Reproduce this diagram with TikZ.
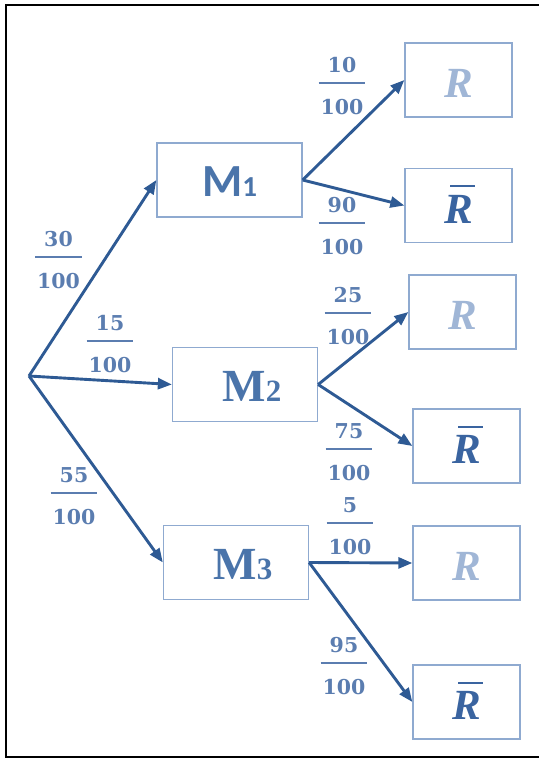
\documentclass[tikz,border=0pt]{standalone}
\usepackage{fontspec}
\setmainfont{Liberation Serif}
\newfontfamily\calib{Carlito}
\newfontfamily\fracf{DejaVu Serif}
\usetikzlibrary{arrows.meta}

\definecolor{boxblue}{HTML}{8FAAD0}
\definecolor{arrowblue}{HTML}{2E5A94}
\definecolor{fracblue}{HTML}{5B7DB0}
\definecolor{mblue}{HTML}{4A74AA}
\definecolor{rlight}{HTML}{A0B6D6}
\definecolor{rdark}{HTML}{3A64A0}

\setlength{\arrayrulewidth}{2pt}
\newcommand{\frc}[2]{\begin{tabular}{@{\hspace{2pt}}c@{\hspace{2pt}}}#1\\\hline\rule{0pt}{30pt}#2\end{tabular}}
\newcommand{\rbar}{\rlap{\hspace{6pt}\rule[36pt]{25pt}{2pt}}R}

\begin{document}
\begin{tikzpicture}[x=1pt,y=-1pt,->,>={Triangle[length=14pt,width=11pt]},line width=2.9pt]
\tikzstyle{mbox}=[draw=boxblue,line width=1.3pt,minimum width=145pt,minimum height=74pt,inner sep=0pt,text=mblue,text height=33pt,text depth=0pt,font=\bfseries\fontsize{46}{46}\selectfont]
\tikzstyle{rbox}=[draw=boxblue,line width=1.3pt,minimum width=107pt,minimum height=74pt,inner sep=0pt,text height=35pt,text depth=0pt,font=\bfseries\itshape\fontsize{43}{43}\selectfont]
\tikzstyle{prob}=[inner sep=0pt,text=fracblue,font=\fracf\bfseries\fontsize{20.5}{33.3}\selectfont]
\useasboundingbox (0,0) rectangle (538,760);
\draw[-,black,line width=1.8pt] (545,5) -- (6,5) -- (6,757) -- (545,757);

\coordinate (root) at (29,376);
\node[mbox] (M1) at (229.5,180) {\calib M{\fontsize{29}{29}\selectfont 1}};
\node[mbox] (M2) at (245,384.5) {\hspace*{14pt}M{\fontsize{31}{31}\selectfont 2}};
\node[mbox] (M3) at (236,562.5) {\hspace*{14pt}M{\fontsize{31}{31}\selectfont 3}};
\node[rbox,text=rlight] (R1) at (458.5,80) {R};
\node[rbox,text=rdark] (RB1) at (458.5,205.5) {\rbar};
\node[rbox,text=rlight] (R2) at (462.5,312) {R};
\node[rbox,text=rdark] (RB2) at (466.5,446) {\rbar};
\node[rbox,text=rlight] (R3) at (466.5,563) {R};
\node[rbox,text=rdark] (RB3) at (466.5,702) {\rbar};

\node[prob] (p30) at (58.5,260.4) {\frc{30}{100}};
\node[prob] (p15) at (110,344.4) {\frc{15}{100}};
\node[prob] (p55) at (74,496.4) {\frc{55}{100}};
\node[prob] (p10) at (342,86.4) {\frc{10}{100}};
\node[prob] (p90) at (342,226.4) {\frc{90}{100}};
\node[prob] (p25) at (348,316.4) {\frc{25}{100}};
\node[prob] (p75) at (349,452.4) {\frc{75}{100}};
\node[prob] (p5) at (350,526.4) {\frc{5}{100}};
\node[prob] (p95) at (344,666.4) {\frc{95}{100}};

\path[arrowblue] (root) edge (M1.west)
                        edge (M2.west)
                        edge (M3.west)
          (M1.east) edge (R1.west)
                    edge (RB1.west)
          (M2.east) edge (R2.west)
                    edge (RB2.west)
          (M3.east) edge (R3.west)
                    edge (RB3.west);
\end{tikzpicture}
\end{document}
